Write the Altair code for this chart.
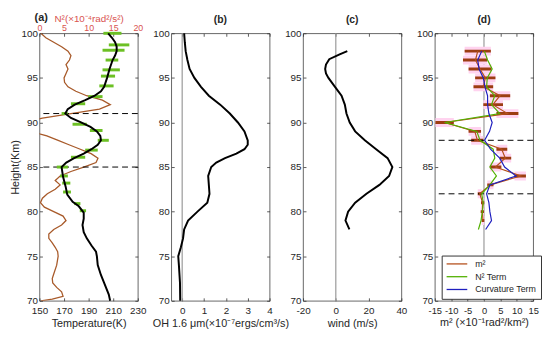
import altair as alt
import pandas as pd

FONT = "Liberation Sans"
W, H = 100, 272
TK = 3
AXC = "#262626"
RED = "#d9534f"
N2C = "#a85a2a"
GREEN = "#6cc024"

Y_TICKS = [70, 75, 80, 85, 90, 95, 100]

# ---------------- (a) temperature + N2 ----------------
temp_h = [70, 70.7, 72, 72.9, 74, 75, 75.5, 76.2, 77, 77.7, 78.5, 79.2, 79.9, 80.6, 81.1,
          81.9, 82.8, 83.9, 85, 85.5, 86, 86.5, 87, 87.5, 88, 88.5, 89, 89.5, 90, 90.5,
          91, 91.5, 92, 92.5, 93, 93.5, 94, 95, 96, 97, 97.5, 98, 98.5, 99, 99.5, 100]
temp_T = [207.5, 206.4, 202.6, 200, 197.4, 196.7, 196, 192.3, 188.5, 186, 185, 186, 186, 182, 177,
          172.6, 171.3, 169.2, 168, 171.8, 178.2, 186, 192.3, 197.4, 200, 199.5, 196.7, 191.5, 183.8, 175.6,
          171, 173, 178.7, 187.2, 194.9, 200, 202.6, 205, 207, 209.5, 211.5, 212.8, 212.8, 211.5, 209, 205.9]
temp_ticks = [150, 170, 190, 210, 230]

n2_h = [100, 99.5, 99, 98.5, 98, 97.5, 97, 96.5, 96, 95.5,
        95, 94.5, 94, 93.5, 93, 92.5, 92, 91.5, 91, 90.5,
        90.2, 89.5, 89, 88.7, 88.5, 88, 87.5, 87, 86.5, 86,
        85.5, 85, 84.5, 84, 83.5, 83, 82.5, 82, 81.5, 81,
        80.5, 80, 79.5, 79, 78.5, 78, 77.5, 77, 76.5, 76,
        75.5, 75, 74, 73, 72.5, 72, 71.5, 71, 70.5, 70.2, 70]
n2_v = [0.3, 1.3, 2.9, 4.5, 5.8, 6.4, 6.1, 5.4, 5.8, 5.4,
        5.0, 5.1, 5.8, 7.4, 9.6, 12.8, 14.4, 12.2, 6.4, 0.6,
        -1.5, -4.0, -1.5, 0.2, 1.5, 3.8, 6.0, 8.3, 10.5, 11.9,
        11.5, 9.0, 6.4, 4.2, 3.2, 4.2, 3.2, 1.6, 0.6, 0.2,
        1.0, 2.9, 4.8, 5.4, 4.5, 2.9, 1.9, 1.9, 2.6, 3.2,
        3.7, 3.8, 3.5, 2.9, 2.6, 2.7, 3.5, 4.5, 4.8, 2.6, 0.3]
n2_ticks = [0, 5, 10, 15, 20]

bar_h = [100, 98.7, 98.1, 97, 95.9, 95.2, 94.1, 92.9, 92.1, 91, 89.8, 89.1, 88, 86.9,
         86.1, 85, 84, 83.2, 82.2, 80.9, 80.1]
bar_lo = [202, 206.4, 201.3, 203.8, 201.3, 200, 198.7, 189.7, 175.6, 168, 176.9, 191, 197.4,
          187.2, 175.6, 164.1, 166.7, 168.5, 169.2, 178.2, 182.8]
bar_hi = [216.7, 223.1, 219.2, 214.1, 215.4, 211.5, 210.3, 201.3, 187.2, 173, 188.5, 201.3,
          206.4, 197.4, 187.2, 173.1, 173.1, 175.1, 175.6, 183.3, 187.9]
dash_a = [91, 85]

# ---------------- (b) OH ----------------
oh_h = [100, 99, 98, 97, 96, 95, 94, 93, 92, 91, 90, 89, 88, 87.5, 87, 86.5, 86, 85.5, 85,
        84, 83, 82, 81, 80, 79, 78, 77, 76, 75, 74, 72, 70]
oh_v = [0.09, 0.12, 0.16, 0.24, 0.34, 0.56, 0.86, 1.22, 1.74, 2.18, 2.55, 2.85, 3.0, 3.0, 2.85,
        2.48, 1.96, 1.56, 1.33, 1.19, 1.22, 1.25, 1.15, 0.7, 0.27, 0.09, 0.04, -0.06, -0.18,
        -0.15, -0.1, -0.09]
oh_ticks = [0, 1, 2, 3, 4]

# ---------------- (c) wind ----------------
wind_h = [98, 97.6, 97.1, 96.5, 96, 95.5, 95, 94, 93, 92, 91, 90, 89, 88, 87, 86, 85, 84, 83,
          82, 81, 80, 79, 78]
wind_v = [7, 2, -4, -6, -6.5, -6, -4.5, -0.5, 3.5, 5.5, 6.5, 8.5, 11.8, 17.7, 24.6, 31.6,
          34.5, 32.5, 26.6, 18.7, 11.8, 7.5, 5.9, 8.3]
wind_ticks = [-20, 0, 20, 40]

# ---------------- (d) m2 ----------------
m2_h = [98, 97, 96, 95, 94, 93, 92, 91, 90, 89, 88, 87, 86, 85, 84, 83, 82, 81, 80, 79]
m2_v = [-1.9, -2.6, -1.2, 0.4, -0.2, 4.9, 2.7, 7.2, -12, -2.8, -2.0, 5.4, 6.5, 3.5, 11.2,
        2.0, -1.3, -0.4, -0.5, -0.3]
m2_lo = [-5.9, -6.4, -4.7, -2.7, -3.2, 1.8, -0.2, 3.8, -14.8, -4.7, -3.9, 3.8, 4.8, 1.8,
         9.3, 1.0, -1.9, -0.9, -1.0, -0.7]
m2_hi = [2.1, 1.0, 2.3, 3.5, 2.8, 8.0, 5.8, 10.5, -9.2, -0.9, -0.2, 7.1, 8.3, 5.3, 12.8,
         2.9, -0.7, 0.1, 0.0, 0.1]
term_h = [98, 97, 96, 95, 94, 93, 92, 91, 90, 89, 88, 87, 86, 85, 84, 83, 82, 81, 80, 79, 78]
n2term_v = [0.1, 1.1, 2.5, 1.0, 0.8, 3.3, 2.3, 4.8, -12, -2.2, -1.2, 2.8, 3.3, 1.8, 3.8,
            1.8, -0.7, -0.2, -0.5, -0.9, -1.7]
curv_v = [-0.7, -1.9, -1.5, -0.2, 0.3, 1.1, 1.1, 1.5, 2.5, 1.7, 0.2, 2.0, 4.8, 6.3, 9.8,
          1.8, 0.8, 1.5, 1.8, 2.3, 0.5]
dash_d = [88, 82]
d_ticks = [-15, -10, -5, 0, 5, 10, 15]
series = ["m²", "N² Term", "Curvature Term"]
series_colors = ["#b5501c", "#52b000", "#1f1fbf"]
zero_line = [0]


# ---------------- helpers ----------------
def axis(orient, values, title=None, labels=True, color=AXC, fs=10, lpad=2, tpad=1, tfs=11):
    return alt.Axis(orient=orient, values=values, title=title, labels=labels,
                    ticks=True, tickSize=TK, offset=-TK, tickColor="#333", tickWidth=0.8,
                    domain=False, grid=False, labelColor=color, titleColor=color,
                    labelFont=FONT, titleFont=FONT, labelFontSize=fs, titleFontSize=tfs,
                    titleFontWeight="normal", labelPadding=lpad, titlePadding=tpad,
                    labelFlush=False, labelOverlap=False, labelExpr="datum.value + ''")


def ys(ax):
    return alt.Y("h:Q", scale=alt.Scale(domain=[70, 100], nice=False, zero=False), axis=ax)


def xs(field, dom, ax):
    return alt.X(f"{field}:Q", scale=alt.Scale(domain=dom, nice=False, zero=False), axis=ax)


# ---------------- panel (a) ----------------
T_DOM = [150, 230]
N_DOM = [0, 20]
temp_df = pd.DataFrame({"h": temp_h, "T": temp_T})
n2_df = pd.DataFrame({"h": n2_h, "n2": n2_v})
bar_df = pd.DataFrame({"h": bar_h, "lo": bar_lo, "hi": bar_hi})
dash_a_df = pd.DataFrame({"h": dash_a})
lab_df = pd.DataFrame({"t": ["(a)"]})

a_ax1 = alt.Chart(temp_df).mark_point(opacity=0).encode(
    x=xs("T", T_DOM, axis("bottom", temp_ticks, "Temperature(K)", lpad=5, tpad=2)),
    y=ys(axis("left", Y_TICKS, "Height(Km)")))
a_ax2 = alt.Chart(n2_df).mark_point(opacity=0).encode(
    x=xs("n2", N_DOM, axis("top", n2_ticks, "N²(×10⁻⁴rad²/s²)", color=RED, fs=9, lpad=1,
                           tpad=0, tfs=10)),
    y=ys(axis("right", Y_TICKS, None, labels=False)))
a_n2 = alt.Chart(n2_df).mark_line(color=N2C, strokeWidth=1.3, clip=True).encode(
    x=xs("n2", N_DOM, None), y=ys(None), order="h:Q")
a_dash = alt.Chart(dash_a_df).mark_rule(color="black", strokeDash=[6, 4], strokeWidth=1).encode(
    y=ys(None))
a_bars = alt.Chart(bar_df).mark_rule(color=GREEN, strokeWidth=3).encode(
    x=xs("lo", T_DOM, None), x2="hi:Q", y=ys(None))
a_temp = alt.Chart(temp_df).mark_line(color="black", strokeWidth=2).encode(
    x=xs("T", T_DOM, None), y=ys(None), order="h:Q")
a_lab = alt.Chart(lab_df).mark_text(font=FONT, fontSize=11, fontWeight="bold", align="left",
                                    baseline="middle", color=AXC).encode(
    text="t:N", x=alt.value(-5), y=alt.value(-16))

panel_a = alt.layer(a_ax1, a_ax2, a_n2, a_dash, a_bars, a_temp, a_lab).resolve_scale(
    x="independent").resolve_axis(x="independent", y="independent").properties(width=W, height=H)

# ---------------- generic panels ----------------
zero_df = pd.DataFrame({"z": zero_line})


def frame_layers(df, field, dom, ticks, title, fs=10):
    l1 = alt.Chart(df).mark_point(opacity=0).encode(
        x=xs(field, dom, axis("bottom", ticks, title, fs=fs, lpad=5, tpad=2)),
        y=ys(axis("left", Y_TICKS, None)))
    l2 = alt.Chart(df).mark_point(opacity=0).encode(
        x=xs(field, dom, axis("top", ticks, None, labels=False)),
        y=ys(axis("right", Y_TICKS, None, labels=False)))
    zr = alt.Chart(zero_df).mark_rule(color="#9a9a9a", strokeWidth=1.2).encode(
        x=xs("z", dom, None))
    return [l1, l2, zr]


B_DOM = [-0.5, 4]
oh_df = pd.DataFrame({"h": oh_h, "v": oh_v})
b_line = alt.Chart(oh_df).mark_line(color="black", strokeWidth=2).encode(
    x=xs("v", B_DOM, None), y=ys(None), order="h:Q")
panel_b = alt.layer(*frame_layers(oh_df, "v", B_DOM, oh_ticks, "OH 1.6 μm(×10⁻⁷ergs/cm³/s)"),
                    b_line).resolve_axis(x="independent", y="independent").properties(
    width=W, height=H, title="(b)")

C_DOM = [-20, 40]
wind_df = pd.DataFrame({"h": wind_h, "v": wind_v})
c_line = alt.Chart(wind_df).mark_line(color="black", strokeWidth=2).encode(
    x=xs("v", C_DOM, None), y=ys(None), order="h:Q")
panel_c = alt.layer(*frame_layers(wind_df, "v", C_DOM, wind_ticks, "wind (m/s)"),
                    c_line).resolve_axis(x="independent", y="independent").properties(
    width=W, height=H, title="(c)")

D_DOM = [-15, 15]
m2_df = pd.DataFrame({"h": m2_h, "v": m2_v, "lo": m2_lo, "hi": m2_hi})
lines_df = pd.concat([
    pd.DataFrame({"h": m2_h, "v": m2_v, "s": series[0]}),
    pd.DataFrame({"h": term_h, "v": n2term_v, "s": series[1]}),
    pd.DataFrame({"h": term_h, "v": curv_v, "s": series[2]}),
], ignore_index=True)
dash_d_df = pd.DataFrame({"h": dash_d})

d_pink = alt.Chart(m2_df).mark_rule(color="#ffd3ef", strokeWidth=9, clip=True).encode(
    x=xs("lo", D_DOM, None), x2="hi:Q", y=ys(None))
d_bars = alt.Chart(m2_df).mark_rule(color="#9c3d12", strokeWidth=3, clip=True).encode(
    x=xs("lo", D_DOM, None), x2="hi:Q", y=ys(None))
d_dash = alt.Chart(dash_d_df).mark_rule(color="black", strokeDash=[6, 4], strokeWidth=1).encode(
    y=ys(None))
d_lines = alt.Chart(lines_df).mark_line(strokeWidth=1.2, clip=True).encode(
    x=xs("v", D_DOM, None), y=ys(None), order="h:Q",
    color=alt.Color("s:N", scale=alt.Scale(domain=series, range=series_colors),
                    legend=alt.Legend(title=None, orient="none", legendX=7, legendY=226,
                                      fillColor="white", strokeColor="#333", padding=4,
                                      symbolType="M-3,0H3", symbolSize=49, symbolOffset=7,
                                      symbolStrokeWidth=1.3, labelFont=FONT, labelFontSize=9,
                                      labelColor=AXC, rowPadding=3, labelOffset=14)))
panel_d = alt.layer(*frame_layers(m2_df, "v", D_DOM, d_ticks, "m² (×10⁻¹rad²/km²)", fs=9.5),
                    d_pink, d_bars, d_dash, d_lines).resolve_axis(
    x="independent", y="independent").properties(width=W, height=H, title="(d)")

chart = alt.hconcat(panel_a, panel_b, panel_c, panel_d, spacing=34, bounds="flush").resolve_legend(
    color="independent").properties(
    padding={"left": 0, "top": 0, "right": 0, "bottom": 0}
).configure_view(stroke="#404040", strokeWidth=0.8).configure_title(
    font=FONT, fontSize=10.5, fontWeight="bold", color=AXC, offset=3)

chart.save("out.html", embed_options={"renderer": "svg", "actions": False})
